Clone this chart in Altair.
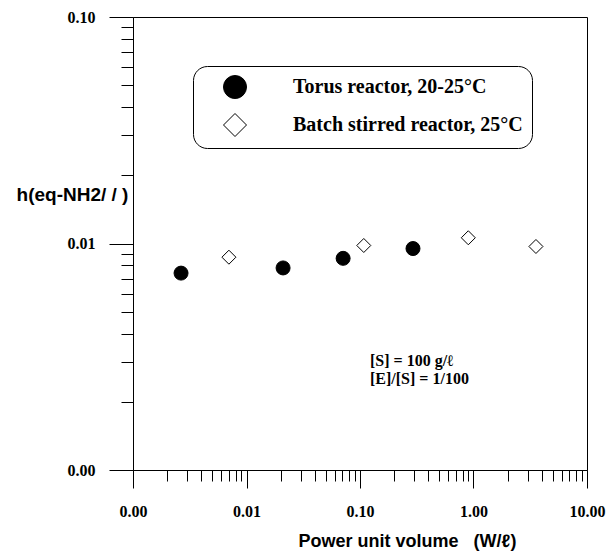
import altair as alt
import pandas as pd

# ---- data ----
series_names = ["Torus reactor, 20-25°C", "Batch stirred reactor, 25°C"]
torus_power = [0.00265, 0.021, 0.071, 0.293]
torus_h = [0.0074, 0.0078, 0.0086, 0.0095]
batch_power = [0.0070, 0.108, 0.90, 3.55]
batch_h = [0.0087, 0.0098, 0.0106, 0.0097]

x_major_ticks = [0.001, 0.01, 0.1, 1, 10]
y_major_ticks = [0.001, 0.01, 0.1]
x_minor_ticks = [k * 10.0 ** e for e in range(-3, 1) for k in range(2, 10)]
y_minor_ticks = [k * 10.0 ** e for e in range(-3, -1) for k in range(2, 10)]

annotation_lines = ["[S] = 100 g/ℓ", "[E]/[S] = 1/100"]
x_title = "Power unit volume\u00a0\u00a0\u00a0(W/ℓ)"
y_title = "h(eq-NH2/ / )"

df = pd.DataFrame({
    "power": torus_power + batch_power,
    "h": torus_h + batch_h,
    "series": [series_names[0]] * len(torus_power) + [series_names[1]] * len(batch_power),
})
note_df = pd.DataFrame({"note": [0]})

SERIF = "Liberation Serif"
SANS = "Liberation Sans"

xscale = alt.Scale(type="log", domain=[0.001, 10], nice=False)
yscale = alt.Scale(type="log", domain=[0.001, 0.1], nice=False)

legend = alt.Legend(
    title=None, orient="none", legendX=60, legendY=49,
    padding=9, cornerRadius=14, strokeColor="black", fillColor="white",
    symbolSize=529, symbolOffset=21, symbolStrokeColor="black", symbolStrokeWidth=1,
    labelOffset=46, rowPadding=10, labelFont=SERIF, labelFontWeight="bold",
    labelFontSize=20, labelColor="black", labelLimit=400,
)

points = alt.Chart(df).mark_point(
    filled=True, size=196, strokeWidth=1, opacity=1
).encode(
    x=alt.X("power:Q", scale=xscale, axis=alt.Axis(
        values=x_major_ticks, format=".2f", orient="bottom", tickSize=18,
        labelPadding=15, labelFlush=False, labelOverlap=False, labelBound=False,
        labelFont=SERIF, labelFontWeight="bold", labelFontSize=16, labelColor="black",
        title=x_title, titleFont=SANS, titleFontWeight="bold", titleFontSize=18,
        titleColor="black", titleX=274, titleY=71, titleAlign="center",
        titleBaseline="middle",
    )),
    y=alt.Y("h:Q", scale=yscale, axis=alt.Axis(
        values=y_major_ticks, format=".2f", orient="left", tickSize=24,
        labelPadding=14, labelFlush=False, labelOverlap=False, labelBound=False,
        labelFont=SERIF, labelFontWeight="bold", labelFontSize=16, labelColor="black",
        title=y_title, titleFont=SANS, titleFontWeight="bold", titleFontSize=19,
        titleColor="black", titleAngle=0, titleX=-61, titleY=177, titleAlign="center",
        titleBaseline="middle",
    )),
    shape=alt.Shape("series:N", scale=alt.Scale(domain=series_names, range=["circle", "diamond"]), legend=legend),
    fill=alt.Fill("series:N", scale=alt.Scale(domain=series_names, range=["black", "white"]), legend=legend),
    stroke=alt.Stroke("series:N", scale=alt.Scale(domain=series_names, range=["black", "black"]), legend=legend),
)

minor = alt.Chart(df).mark_point(opacity=0).encode(
    x=alt.X("power:Q", axis=alt.Axis(
        values=x_minor_ticks, labels=False, orient="bottom", tickSize=11,
        domain=False, title=None,
    )),
    y=alt.Y("h:Q", axis=alt.Axis(
        values=y_minor_ticks, labels=False, orient="left", tickSize=12,
        domain=False, title=None,
    )),
)

note = alt.Chart(note_df).mark_text(
    text=annotation_lines, align="left", baseline="middle", lineHeight=18,
    font=SERIF, fontWeight="bold", fontSize=16, color="black",
).encode(x=alt.value(237), y=alt.value(344))

chart = alt.layer(points, minor, note).resolve_axis(
    x="independent", y="independent"
).properties(
    width=454, height=453,
    autosize=alt.AutoSizeParams(type="none"),
    padding={"left": 125, "top": 9, "right": 20, "bottom": 81},
).configure_view(
    stroke="black", strokeWidth=1
).configure_axis(
    grid=False, domainColor="black", tickColor="black", domainWidth=1, tickWidth=1
)

chart.save("out.html", embed_options={"renderer": "svg", "actions": False})
